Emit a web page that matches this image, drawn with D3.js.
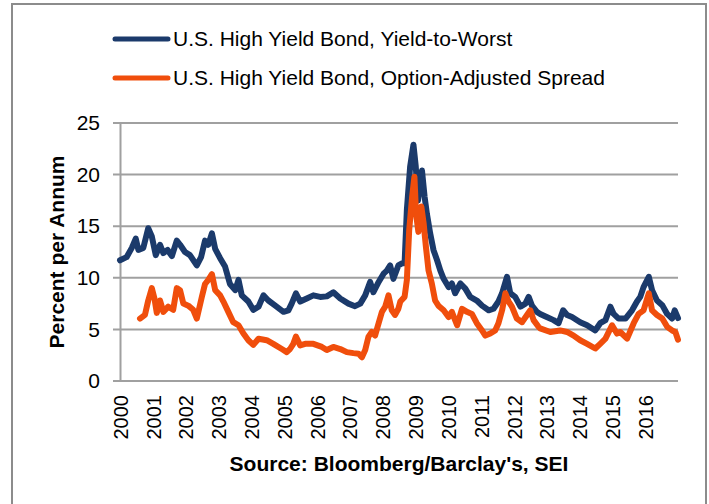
<!DOCTYPE html>
<html>
<head>
<meta charset="utf-8">
<script src="https://cdn.jsdelivr.net/npm/d3@7"></script>
<style>
  body { margin: 0; background: #fff; }
  svg { display: block; font-family: "Liberation Sans", Arial, sans-serif; }
</style>
</head>
<body>
<div id="chart"></div>
<script>
// yield-to-worst (decimal year, percent)
const ytwDates = [2000.00, 2000.20, 2000.36, 2000.48, 2000.56, 2000.71, 2000.86, 2000.97, 2001.09, 2001.22,
  2001.32, 2001.45, 2001.58, 2001.73, 2001.83, 2001.98, 2002.13, 2002.34, 2002.47, 2002.59,
  2002.69, 2002.80, 2002.90, 2003.05, 2003.20, 2003.35, 2003.51, 2003.61, 2003.71, 2003.91,
  2004.06, 2004.22, 2004.37, 2004.52, 2004.73, 2004.98, 2005.13, 2005.23, 2005.36, 2005.49,
  2005.69, 2005.89, 2006.10, 2006.30, 2006.50, 2006.71, 2006.96, 2007.16, 2007.32, 2007.47,
  2007.62, 2007.72, 2007.88, 2008.03, 2008.13, 2008.23, 2008.33, 2008.48, 2008.59, 2008.67,
  2008.74, 2008.84, 2008.94, 2009.01, 2009.08, 2009.15, 2009.20, 2009.28, 2009.35, 2009.45,
  2009.55, 2009.66, 2009.76, 2009.86, 2010.01, 2010.11, 2010.21, 2010.37, 2010.52, 2010.67,
  2010.87, 2011.03, 2011.23, 2011.38, 2011.53, 2011.64, 2011.79, 2011.89, 2012.04, 2012.20,
  2012.35, 2012.45, 2012.55, 2012.70, 2012.80, 2013.00, 2013.21, 2013.36, 2013.50, 2013.62,
  2013.77, 2014.02, 2014.23, 2014.48, 2014.63, 2014.79, 2014.94, 2015.04, 2015.19, 2015.40,
  2015.60, 2015.75, 2015.85, 2015.95, 2016.11, 2016.21, 2016.36, 2016.52, 2016.67, 2016.82,
  2016.90, 2017.00];
const ytwValues = [11.7, 12.0, 12.9, 13.8, 12.7, 12.9, 14.8, 14.0, 12.2, 13.2,
  12.4, 12.7, 12.1, 13.6, 13.2, 12.5, 12.2, 11.2, 12.0, 13.6,
  13.2, 14.3, 12.8, 11.9, 11.1, 9.4, 8.8, 9.8, 8.3, 7.7,
  6.9, 7.2, 8.3, 7.8, 7.3, 6.7, 6.85, 7.5, 8.5, 7.7,
  8.0, 8.3, 8.15, 8.2, 8.6, 8.0, 7.5, 7.25, 7.5, 8.3,
  9.6, 8.6, 9.6, 10.4, 10.7, 11.2, 9.9, 11.2, 11.4, 11.4,
  16.6, 20.8, 22.9, 20.8, 17.5, 19.5, 20.4, 17.85, 16.2, 14.3,
  12.7, 11.7, 10.7, 9.9, 9.1, 9.45, 8.5, 9.45, 8.95, 8.15,
  7.8, 7.3, 6.85, 7.0, 7.7, 8.5, 10.1, 8.5, 8.15, 7.2,
  7.5, 8.15, 7.3, 6.7, 6.5, 6.2, 5.9, 5.6, 6.85, 6.4,
  6.2, 5.7, 5.4, 4.9, 5.6, 5.9, 7.2, 6.5, 6.05, 6.05,
  6.85, 7.7, 8.15, 9.1, 10.1, 8.8, 7.8, 7.35, 6.5, 6.05,
  6.85, 6.1];

// option-adjusted spread
const oasDates = [2000.61, 2000.76, 2000.86, 2000.97, 2001.05, 2001.12, 2001.22, 2001.32, 2001.47, 2001.62,
  2001.73, 2001.83, 2001.93, 2002.08, 2002.23, 2002.34, 2002.49, 2002.59, 2002.69, 2002.80,
  2002.90, 2003.05, 2003.15, 2003.30, 2003.45, 2003.61, 2003.76, 2003.91, 2004.06, 2004.22,
  2004.47, 2004.67, 2004.93, 2005.08, 2005.18, 2005.28, 2005.36, 2005.49, 2005.64, 2005.89,
  2006.15, 2006.30, 2006.50, 2006.71, 2006.91, 2007.11, 2007.27, 2007.37, 2007.47, 2007.57,
  2007.67, 2007.77, 2007.88, 2007.98, 2008.08, 2008.18, 2008.28, 2008.38, 2008.48, 2008.54,
  2008.67, 2008.74, 2008.81, 2008.90, 2008.97, 2009.02, 2009.09, 2009.18, 2009.25, 2009.32,
  2009.40, 2009.50, 2009.60, 2009.70, 2009.86, 2010.01, 2010.11, 2010.27, 2010.42, 2010.57,
  2010.72, 2010.87, 2011.03, 2011.13, 2011.28, 2011.43, 2011.53, 2011.64, 2011.74, 2011.84,
  2011.94, 2012.09, 2012.25, 2012.40, 2012.50, 2012.60, 2012.75, 2012.80, 2013.11, 2013.41,
  2013.62, 2013.82, 2014.02, 2014.23, 2014.48, 2014.63, 2014.79, 2014.99, 2015.14, 2015.24,
  2015.45, 2015.65, 2015.80, 2015.95, 2016.11, 2016.21, 2016.36, 2016.52, 2016.67, 2016.82,
  2016.92, 2017.00];
const oasValues = [6.05, 6.4, 7.8, 9.0, 8.0, 6.6, 7.8, 6.7, 7.2, 6.9,
  9.0, 8.8, 7.5, 7.3, 6.9, 6.05, 8.1, 9.4, 9.8, 10.35,
  8.8, 8.3, 7.7, 6.7, 5.7, 5.4, 4.6, 3.95, 3.5, 4.1,
  3.95, 3.6, 3.1, 2.8, 3.1, 3.6, 4.3, 3.45, 3.6, 3.6,
  3.3, 3.0, 3.3, 3.1, 2.8, 2.7, 2.65, 2.3, 3.0, 4.3,
  4.75, 4.4, 5.6, 6.7, 7.2, 8.3, 6.85, 6.4, 7.0, 7.7,
  8.15, 9.8, 14.6, 17.85, 19.8, 16.2, 14.45, 16.9, 15.3, 13.0,
  10.7, 9.45, 7.8, 7.3, 6.85, 6.2, 6.7, 5.4, 7.0, 6.7,
  6.5, 5.6, 4.9, 4.4, 4.6, 4.9, 5.6, 6.85, 8.5, 7.7,
  7.2, 6.05, 5.7, 6.4, 6.85, 5.9, 5.25, 5.1, 4.75, 4.9,
  4.75, 4.4, 3.95, 3.6, 3.15, 3.6, 4.1, 5.4, 4.6, 4.75,
  4.1, 5.6, 6.5, 6.85, 8.5, 6.85, 6.4, 6.05, 5.25, 4.9,
  4.75, 4.0];

const yearLabels = d3.range(2000, 2017);
const yTicks = [0, 5, 10, 15, 20, 25];
const seriesNames = ["U.S. High Yield Bond, Yield-to-Worst", "U.S. High Yield Bond, Option-Adjusted Spread"];
const seriesColors = ["#1B3A6B", "#F04E0C"];

const width = 709, height = 504;
const margin = { top: 123, right: 31, bottom: 123, left: 120 };

const svg = d3.select("#chart").append("svg")
  .attr("width", width)
  .attr("height", height);

// outer frame (bottom edge runs off the picture)
svg.append("rect")
  .attr("x", 12).attr("y", 4)
  .attr("width", 694).attr("height", 520)
  .attr("fill", "none")
  .attr("stroke", "#8c8c8c")
  .attr("stroke-width", 2);

const x = d3.scaleLinear()
  .domain([2000, 2017])
  .range([margin.left, width - margin.right]);

const y = d3.scaleLinear()
  .domain([0, 25])
  .range([height - margin.bottom, margin.top]);

// gridlines
svg.append("g")
  .selectAll("line")
  .data(yTicks)
  .join("line")
    .attr("x1", x(2000) - 7)
    .attr("x2", x(2017))
    .attr("y1", d => y(d))
    .attr("y2", d => y(d))
    .attr("stroke", "#a0a0a0")
    .attr("stroke-width", 2);

// y axis
const yAxis = svg.append("g")
  .attr("transform", `translate(${x(2000)},0)`)
  .call(d3.axisLeft(y).tickValues(yTicks).tickSize(0).tickPadding(20));
yAxis.select(".domain").attr("stroke", "#a0a0a0").attr("stroke-width", 2);
yAxis.selectAll("text")
  .style("font-size", "21px")
  .style("font-family", "Liberation Sans, Arial, sans-serif")
  .attr("fill", "#000");

// x axis labels, rotated
const xAxis = svg.append("g")
  .attr("transform", `translate(0,${y(0)})`)
  .call(d3.axisBottom(x).tickValues(yearLabels).tickFormat(d3.format("d")).tickSize(0));
xAxis.select(".domain").remove();
xAxis.selectAll("text")
  .attr("transform", "rotate(-90)")
  .attr("x", -14)
  .attr("y", 0)
  .attr("dy", "0.36em")
  .style("text-anchor", "end")
  .style("font-size", "20px")
  .style("font-family", "Liberation Sans, Arial, sans-serif")
  .attr("fill", "#000");

// series
const line = d3.line()
  .x(d => x(d[0]))
  .y(d => y(d[1]))
  .curve(d3.curveLinear);

const series = [
  d3.zip(ytwDates, ytwValues),
  d3.zip(oasDates, oasValues)
];

svg.append("g")
  .selectAll("path")
  .data(series)
  .join("path")
    .attr("d", line)
    .attr("fill", "none")
    .attr("stroke", (d, i) => seriesColors[i])
    .attr("stroke-width", 6)
    .attr("stroke-linejoin", "round")
    .attr("stroke-linecap", "round");

// legend
const legend = svg.append("g")
  .selectAll("g")
  .data(seriesNames)
  .join("g")
    .attr("transform", (d, i) => `translate(115,${39 + i * 39})`);

legend.append("line")
  .attr("x1", 0).attr("x2", 53)
  .attr("stroke", (d, i) => seriesColors[i])
  .attr("stroke-width", 5)
  .attr("stroke-linecap", "round");

legend.append("text")
  .attr("x", 58)
  .attr("dy", "0.35em")
  .style("font-size", "21px")
  .text(d => d);

// axis titles
svg.append("text")
  .attr("transform", `translate(57,${(y(0) + y(25)) / 2}) rotate(-90)`)
  .attr("text-anchor", "middle")
  .attr("dy", "0.35em")
  .style("font-size", "21px")
  .style("font-weight", "bold")
  .text("Percent per Annum");

svg.append("text")
  .attr("x", 399)
  .attr("y", 471)
  .attr("text-anchor", "middle")
  .style("font-size", "21px")
  .style("font-weight", "bold")
  .text("Source: Bloomberg/Barclay's, SEI");
</script>
</body>
</html>
